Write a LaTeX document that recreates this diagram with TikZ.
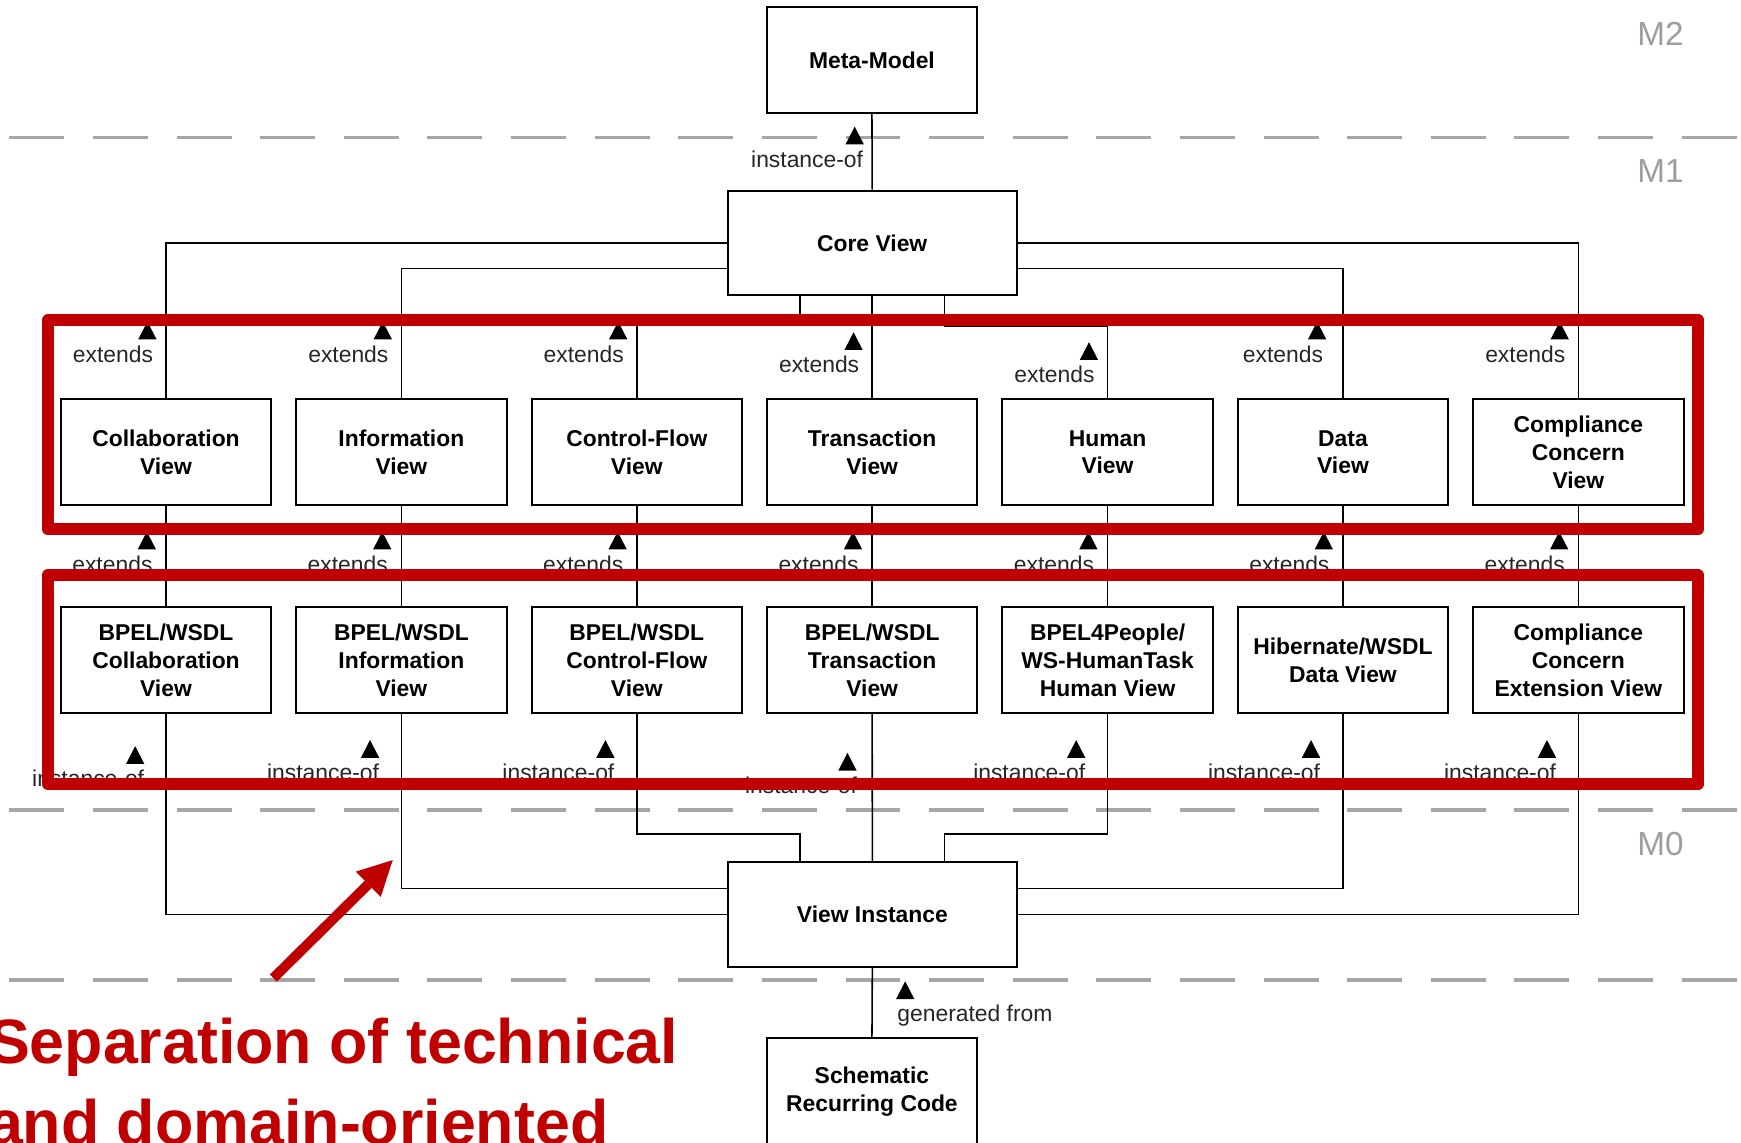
\documentclass[tikz,border=0pt]{standalone}
\usepackage{fontspec}
\setmainfont{Liberation Sans}
\usetikzlibrary{arrows.meta}
\definecolor{slidered}{HTML}{C00000}
\definecolor{levelline}{HTML}{A6A6A6}
\definecolor{leveltext}{HTML}{9E9E9E}
\definecolor{labeltext}{HTML}{262626}

% relation marker: a small filled triangle beside a connector, with its caption below
% #1 name, #2 connector x, #3 triangle gap, #4 caption gap, #5 triangle base y, #6 caption
\newcommand\linklabel[6]{%
  \fill[black] (#2-#3-16.5,#5) -- (#2-#3,#5) -- (#2-#3-8.25,#5-16) -- cycle;
  \node[rel, anchor=base east] (#1) at (#2-#4,#5+20.5) {#6};}

\begin{document}
\begin{tikzpicture}[x=1pt,y=-1pt,
  box/.style={draw, line width=1.8pt, inner sep=0pt, align=center,
    minimum width=189.5pt, minimum height=95pt,
    font=\bfseries\fontsize{20.6}{25}\selectfont},
  widebox/.style={box, minimum width=260pt, minimum height=94pt},
  rel/.style={inner sep=0pt, text=labeltext, font=\fontsize{20.6}{25}\selectfont},
  link/.style={draw, line width=1.4pt},
  level/.style={draw=levelline, line width=3.2pt, dash pattern=on 49.5pt off 25.8pt},
  levelname/.style={inner sep=0pt, text=leveltext, font=\fontsize{30}{36}\selectfont},
  focus/.style={draw=slidered, line width=11pt, line join=round},
  claim/.style={inner sep=0pt, anchor=base west, text=slidered,
    font=\bfseries\fontsize{56.5}{73}\selectfont}]

\useasboundingbox (0,0) rectangle (1568,1029);
\clip (0,0) rectangle (1568,1029);

% meta-level separators
\coordinate (l2a) at (8.5,124);   \coordinate (l2b) at (1580,124);
\coordinate (l1a) at (8.5,729.5); \coordinate (l1b) at (1580,729.5);
\coordinate (l0a) at (8.5,882.6); \coordinate (l0b) at (1580,882.6);
\draw[level] (l2a) -- (l2b);
\draw[level] (l1a) -- (l1b);
\draw[level] (l0a) -- (l0b);
\node[levelname] (m2) at (1495.5,30.2) {M2};
\node[levelname] (m1) at (1495.5,154) {M1};
\node[levelname] (m0) at (1495.5,760.5) {M0};

% model elements
\node[box] (meta) at (785.3,53.9) {Meta-Model};
\node[widebox] (core) at (785.5,218.7) {Core View};

\node[box] (c1) at (149.5,407.2)  {Collaboration\\View};
\node[box] (c2) at (361.5,407.2)  {Information\\View};
\node[box] (c3) at (573.5,407.2)  {Control-Flow\\View};
\node[box] (c4) at (785.5,407.2)  {Transaction\\View};
\node[box] (c5) at (997.5,407.2)  {Human\\View};
\node[box] (c6) at (1209.5,407.2) {Data\\View};
\node[box] (c7) at (1421.5,407.2) {Compliance\\Concern\\View};

\node[box] (t1) at (149.5,594.6)  {BPEL/WSDL\\Collaboration\\View};
\node[box] (t2) at (361.5,594.6)  {BPEL/WSDL\\Information\\View};
\node[box] (t3) at (573.5,594.6)  {BPEL/WSDL\\Control-Flow\\View};
\node[box] (t4) at (785.5,594.6)  {BPEL/WSDL\\Transaction\\View};
\node[box] (t5) at (997.5,594.6)  {BPEL4People/\\WS-HumanTask\\Human View};
\node[box] (t6) at (1209.5,594.6) {Hibernate/WSDL\\Data View};
\node[box] (t7) at (1421.5,594.6) {Compliance\\Concern\\Extension View};

\node[widebox] (inst) at (785.65,823.65) {View Instance};
\node[box, minimum height=95.5pt] (code) at (785.3,982.95) {Schematic\\Recurring Code};

% Core View to the domain views
\draw[link] (meta.south) -- (core.north);
\draw[link] (core.west) -| (c1.north);
\coordinate (j2) at (361.5,242);
\draw[link] (core.west |- j2) -| (c2.north);
\coordinate (j3) at (720.5,288.5);
\draw[link] (core.south -| j3) -- (j3) -| (c3.north);
\draw[link] (core.south) -- (c4.north);
\coordinate (j5) at (850.5,294.2);
\draw[link] (core.south -| j5) -- (j5) -| (c5.north);
\coordinate (j6) at (1209.5,242);
\draw[link] (core.east |- j6) -| (c6.north);
\draw[link] (core.east) -| (c7.north);

% domain views to technical views
\foreach \i in {1,...,7} \draw[link] (c\i.south) -- (t\i.north);

% technical views to View Instance
\draw[link] (t1.south) |- (inst.west);
\coordinate (k2) at (361.5,800);
\draw[link] (t2.south) |- (inst.west |- k2);
\coordinate (k3) at (720.5,751.3);
\draw[link] (t3.south) |- (k3) -- (inst.north -| k3);
\draw[link] (t4.south) -- (inst.north);
\coordinate (k5) at (850.5,751.3);
\draw[link] (t5.south) |- (k5) -- (inst.north -| k5);
\draw[link] (t6.south) |- (inst.east |- k2);
\draw[link] (t7.south) |- (inst.east);
\draw[link] (inst.south) -- (code.north);

% relation markers
\linklabel{r0}{785.5}{7.5}{8}{130}{instance-of}

\linklabel{ra1}{149.5}{8.5}{11.5}{305.6}{extends}
\linklabel{ra2}{361.5}{8.5}{11.5}{305.6}{extends}
\linklabel{ra3}{573.5}{8.5}{11.5}{305.6}{extends}
\linklabel{ra4}{785.5}{8.5}{11.5}{315.2}{extends}
\linklabel{ra5}{997.5}{8.5}{11.5}{324.2}{extends}
\linklabel{ra6}{1209.5}{15}{17.7}{305.6}{extends}
\linklabel{ra7}{1421.5}{8.5}{11.5}{305.6}{extends}

\linklabel{rb1}{149.5}{9}{12}{494.8}{extends}
\linklabel{rb2}{361.5}{9}{12}{494.8}{extends}
\linklabel{rb3}{573.5}{9}{12}{494.8}{extends}
\linklabel{rb4}{785.5}{9}{12}{494.8}{extends}
\linklabel{rb5}{997.5}{9}{12}{494.8}{extends}
\linklabel{rb6}{1209.5}{9}{12}{494.8}{extends}
\linklabel{rb7}{1421.5}{9}{12}{494.8}{extends}

\linklabel{rc1}{149.5}{19.5}{19.5}{688}{instance-of}
\linklabel{rc2}{361.5}{20}{20}{682.5}{instance-of}
\linklabel{rc3}{573.5}{20}{20}{682.5}{instance-of}
\linklabel{rc4}{785.5}{14}{13.5}{694}{instance-of}
\linklabel{rc5}{997.5}{20}{20}{682.5}{instance-of}
\linklabel{rc6}{1209.5}{20.5}{20.5}{682.5}{instance-of}
\linklabel{rc7}{1421.5}{20}{20}{682.5}{instance-of}

\fill[black] (807,899.8) -- (823.5,899.8) -- (815.25,883.8) -- cycle;
\node[rel, anchor=base west] (gen) at (808,920) {generated from};

% highlighted layers
\draw[focus] (43.4,288.2) rectangle (1529.2,476.6);
\draw[focus] (43.4,518) rectangle (1529.2,706.3);

% annotation
\coordinate (pointerTail) at (246.2,880.9);
\coordinate (pointerTip) at (353.7,774.6);
\draw[slidered, line width=9pt, -{Triangle[length=31pt,width=32pt,line width=0pt]}]
  (pointerTail) -- (pointerTip);
\node[claim] (claimA) at (-11,957.6) {Separation of technical};
\node[claim] (claimB) at (-11,1030.6) {and domain-oriented};
\end{tikzpicture}
\end{document}
